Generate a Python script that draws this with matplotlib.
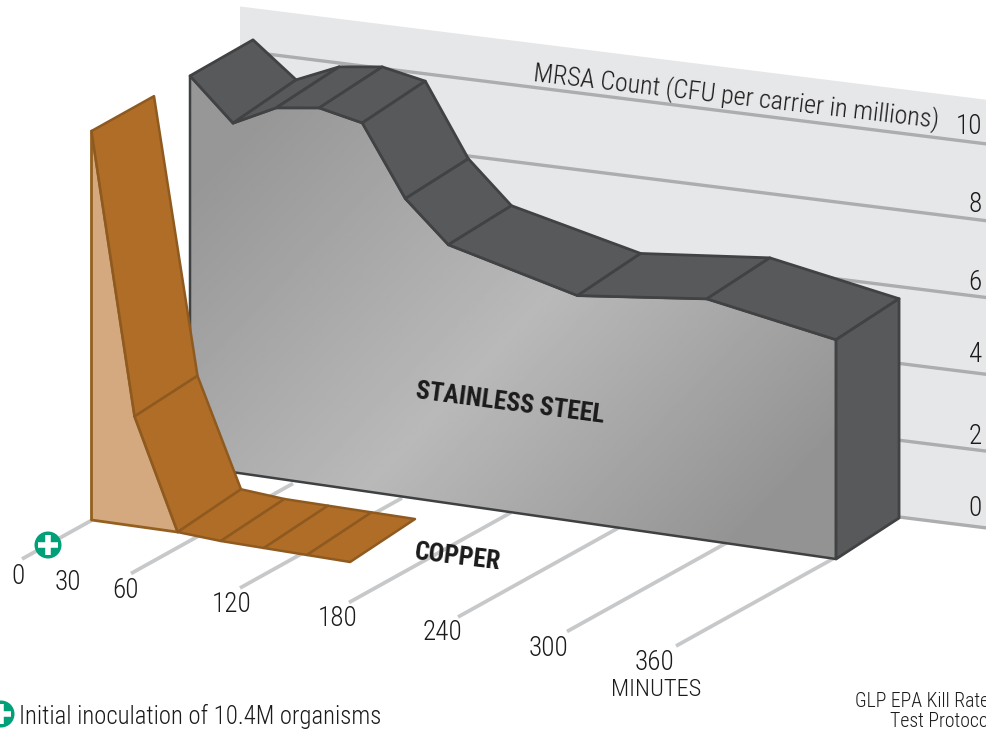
import matplotlib
matplotlib.use("Agg")
import matplotlib.pyplot as plt
from matplotlib.patches import Polygon, Circle
import numpy as np

# Values (millions of CFU)
steel_steps = [0, 1, 2, 3, 4, 5, 6, 9, 12, 15]
steel_front = [10.16, 9.09, 9.65, 9.81, 9.58, 7.77, 6.73, 5.89, 6.29, 5.71]
steel_back = [10.03, 9.15, 9.65, 9.81, 9.60, 7.74, 6.68, 5.92, 6.29, 5.71]
copper_steps = [0, 1, 2, 3, 4, 5, 6]
copper_front = [10.13, 2.88, 0.05, 0, 0, 0, 0]
copper_back = [9.97, 2.86, 0.08, 0, 0, 0, 0]

grid_counts = [0, 2, 4, 6, 8, 10]
grid_labels = ["0", "2", "4", "6", "8", "10"]
tick_minutes = [0, 60, 120, 180, 240, 300, 360]
time_labels = ["0", "30", "60", "120", "180", "240", "300", "360"]

FONT = "Roboto Condensed"
INK = "#1c1a1b"
PX = 38.4  # pixels per million


def steel_pt(step, count, back=False):
    x = 190 + 43.07 * step + (63 if back else 0)
    y = 466 + 6.2 * step - (41 if back else 0) - count * PX
    return (x, y)


def copper_pt(step, count, back=False):
    if back:
        return (154 + 43.5 * step, 479 + 6.67 * step - count * PX)
    return (91.5 + 43.1 * step, 520 + 7 * step - count * PX)


def wall_pt(x, count):
    return (x, 528 - 0.125 * (987 - x) - count * PX)


def floor_pt(minutes, frac):
    i = minutes / 60
    return (22 + 109 * i + 162 * frac, 559 + 14.5 * i - 90 * frac)


fig = plt.figure(figsize=(9.87, 7.34), dpi=100)
ax = fig.add_axes([0, 0, 1, 1])
ax.axis("off")

# back wall
ax.add_patch(Polygon([wall_pt(240, 0), wall_pt(240, 11.15), wall_pt(987, 11.15), wall_pt(987, 0)],
                     fc="#e6e7e8", ec="none", zorder=1))
for c in grid_counts:
    p0 = wall_pt(240, c)
    p1 = wall_pt(987, c)
    ax.plot([p0[0], p1[0]], [p0[1], p1[1]], color="#abadaf", lw=2.4, zorder=2, solid_capstyle="butt")

# floor lines
for m in tick_minutes:
    frac = 0.43 if m == 0 else 1.0
    p0 = floor_pt(m, 0)
    p1 = floor_pt(m, frac)
    ax.plot([p0[0], p1[0]], [p0[1], p1[1]], color="#c7c8ca", lw=2.7, zorder=2, solid_capstyle="butt")

# stainless steel front with diagonal shading
front_top = [steel_pt(s, v) for s, v in zip(steel_steps, steel_front)]
back_top = [steel_pt(s, v, True) for s, v in zip(steel_steps, steel_back)]
front_poly = [steel_pt(0, 0)] + front_top + [steel_pt(15, 0)]
steel_face = Polygon(front_poly, fc="none", ec="#3f4042", lw=1.8, joinstyle="round", zorder=4)
ax.add_patch(steel_face)
xx, yy = np.meshgrid(np.linspace(180, 850, 300), np.linspace(60, 570, 240))
shade = (xx - 430) * 0.72 + (yy - 420) * 0.69
shade = np.interp(shade, [-330, 0, 300], [0x97, 0xb9, 0x94])
img = ax.imshow(shade, extent=(180, 850, 570, 60), cmap="gray", vmin=0, vmax=255, zorder=3, aspect="auto")
clip = Polygon(front_poly, transform=ax.transData)
img.set_clip_path(clip)

# steel top faces and end face
for i in range(len(steel_steps) - 1):
    ax.add_patch(Polygon([front_top[i], back_top[i], back_top[i + 1], front_top[i + 1]],
                         fc="#58595b", ec="#414244", lw=2, joinstyle="round", zorder=5))
ax.add_patch(Polygon([front_top[-1], back_top[-1], steel_pt(15, 0, True), steel_pt(15, 0)],
                     fc="#58595b", ec="#414244", lw=2, joinstyle="round", zorder=5))

# copper
c_front = [copper_pt(s, v) for s, v in zip(copper_steps, copper_front)]
c_back = [copper_pt(s, v, True) for s, v in zip(copper_steps, copper_back)]
ax.add_patch(Polygon([copper_pt(0, 0)] + c_front[:3], fc="#d4a97f", ec="#95601f", lw=2,
                     joinstyle="round", zorder=6))
for i in range(len(copper_steps) - 1):
    ax.add_patch(Polygon([c_front[i], c_back[i], c_back[i + 1], c_front[i + 1]],
                         fc="#b06d27", ec="#8f5a1f", lw=1.8, joinstyle="round", zorder=7))

# inoculation markers
for cx, cy in [(48, 545), (1, 714)]:
    ax.add_patch(Circle((cx, cy), 13.5, fc="#00a078", ec="none", zorder=8))
    ax.plot([cx - 10, cx + 10], [cy, cy], color="white", lw=4, zorder=9, solid_capstyle="butt")
    ax.plot([cx, cx], [cy - 10, cy + 10], color="white", lw=4, zorder=9, solid_capstyle="butt")

# text
time_xy = [(18, 576), (68, 583), (125, 591), (232, 605), (338, 619), (443, 633), (549, 648), (655, 662)]
for lab, (x, y) in zip(time_labels, time_xy):
    ax.text(x, y, lab, family=FONT, weight=300, fontsize=19.5, color=INK, ha="center", va="center", zorder=10)
grid_y = [509, 436, 354, 282, 204, 126]
for lab, y in zip(grid_labels, grid_y):
    ax.text(982, y, lab, family=FONT, weight=300, fontsize=19.5, color=INK, ha="right", va="center", zorder=10)

ax.text(533, 81, "MRSA Count (CFU per carrier in millions)", family=FONT, weight=300, fontsize=18.7, color=INK,
        rotation=-6.6, rotation_mode="anchor", ha="left", va="baseline", zorder=10)
ax.text(656, 689, "MINUTES", family=FONT, weight=300, fontsize=17.6, color=INK, ha="center", va="center", zorder=10)
ax.text(19, 716, "Initial inoculation of 10.4M organisms", family=FONT, weight=300, fontsize=17.8, color=INK,
        ha="left", va="center", zorder=10)
ax.text(855, 707, "GLP EPA Kill Rate", family=FONT, weight=300, fontsize=14.2, color=INK, ha="left", va="baseline", zorder=10)
ax.text(890, 727, "Test Protocol", family=FONT, weight=300, fontsize=14.2, color=INK, ha="left", va="baseline", zorder=10)
ax.text(510, 403, "STAINLESS STEEL", family=FONT, weight=700, fontsize=18.5, color=INK,
        rotation=-7.5, rotation_mode="anchor", ha="center", va="center", zorder=10)
ax.text(458, 557, "COPPER", family=FONT, weight=700, fontsize=18.5, color=INK,
        rotation=-7, rotation_mode="anchor", ha="center", va="center", zorder=10)

ax.set_xlim(0, 987)
ax.set_ylim(734, 0)
fig.savefig("out.png", dpi=100)
